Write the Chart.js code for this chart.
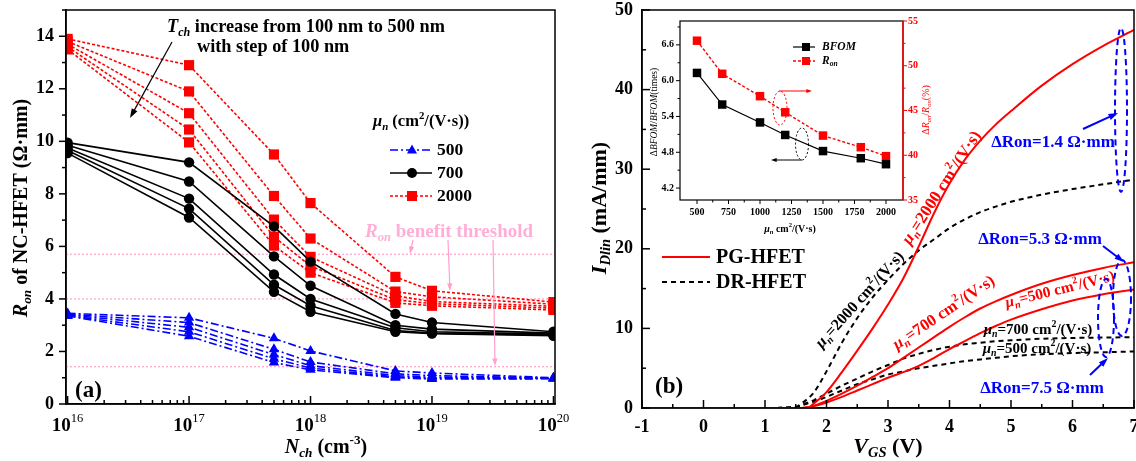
<!DOCTYPE html>
<html><head><meta charset="utf-8">
<script src="https://cdn.jsdelivr.net/npm/chart.js@4.4.0/dist/chart.umd.min.js"></script>
<style>
html,body{margin:0;padding:0;background:#fff;}
#wrap{position:relative;width:1136px;height:461px;overflow:hidden;background:#fff;}
canvas{position:absolute;}
</style></head>
<body><div id="wrap">
<canvas id="ca" width="575" height="461" style="left:0;top:0"></canvas>
<canvas id="cb" width="561" height="461" style="left:575px;top:0"></canvas>
<canvas id="ci" width="300" height="226" style="left:640px;top:14px"></canvas>
</div>
<script>
// ---------- DATA: panel (a) ----------
const nch = [1e16, 1e17, 5e17, 1e18, 5e18, 1e19, 1e20];
const tchLabels = ['100 nm', '200 nm', '300 nm', '400 nm', '500 nm'];
const ron500 = [
  [3.45, 3.28, 2.50, 2.02, 1.26, 1.18, 1.00],
  [3.42, 3.10, 2.08, 1.60, 1.15, 1.08, 0.99],
  [3.40, 2.92, 1.88, 1.46, 1.08, 1.02, 0.98],
  [3.37, 2.75, 1.72, 1.37, 1.03, 0.98, 0.97],
  [3.35, 2.58, 1.58, 1.30, 1.00, 0.95, 0.96]];
const ron700 = [
  [9.95, 9.20, 6.76, 5.42, 3.43, 3.10, 2.75],
  [9.85, 8.47, 5.62, 4.50, 3.00, 2.85, 2.70],
  [9.75, 7.82, 4.93, 4.00, 2.90, 2.75, 2.66],
  [9.65, 7.44, 4.54, 3.74, 2.80, 2.70, 2.63],
  [9.55, 7.10, 4.27, 3.51, 2.75, 2.68, 2.60]];
const ron2000 = [
  [13.9, 12.90, 9.50, 7.65, 4.84, 4.31, 3.88],
  [13.8, 11.90, 7.92, 6.30, 4.28, 4.08, 3.80],
  [13.7, 11.07, 7.02, 5.60, 4.12, 3.90, 3.72],
  [13.6, 10.45, 6.37, 5.25, 3.97, 3.82, 3.65],
  [13.5,  9.96, 6.03, 5.00, 3.85, 3.74, 3.58]];
const thresholds = [5.7, 4.0, 1.42];
const aYTicks = [0,1,2,3,4,5,6,7,8,9,10,11,12,13,14,15];
const aXDecades = [16, 17, 18, 19, 20];

// ---------- DATA: panel (b) ----------
const vgs    = [-1, 0, 1, 1.5, 1.6, 1.7, 1.8, 2.0, 2.25, 2.5, 2.75, 3.0, 3.25, 3.5, 3.75, 4.0, 4.25, 4.5, 4.75, 5.0, 5.5, 6.0, 6.5, 7.0];
const pg2000 = [0, 0, 0, 0, 0, 0.05, 0.6, 2.0, 4.5, 7.2, 10.0, 13.0, 16.3, 20.3, 24.5, 28.2, 31.2, 33.6, 35.6, 37.3, 40.5, 43.2, 45.5, 47.5];
const dr2000 = [0, 0, 0, 0.15, 0.6, 1.2, 2.0, 4.6, 8.2, 11.3, 13.9, 16.1, 18.1, 19.8, 21.2, 22.6, 23.7, 24.6, 25.3, 25.9, 26.8, 27.5, 28.1, 28.7];
const pg700  = [0, 0, 0, 0, 0, 0.1, 0.3, 0.9, 1.8, 2.8, 3.9, 5.0, 6.3, 7.6, 8.9, 10.2, 11.4, 12.5, 13.4, 14.2, 15.6, 16.7, 17.6, 18.3];
const pg500  = [0, 0, 0, 0, 0, 0.05, 0.25, 0.7, 1.4, 2.2, 3.0, 3.8, 4.5, 5.3, 6.3, 7.4, 8.4, 9.4, 10.3, 11.1, 12.4, 13.5, 14.3, 14.9];
const dr700  = [0, 0, 0, 0.1, 0.4, 0.7, 1.0, 1.8, 2.8, 3.7, 4.6, 5.4, 6.2, 6.8, 7.3, 7.7, 8.0, 8.2, 8.4, 8.5, 8.7, 8.8, 8.85, 8.9];
const dr500  = [0, 0, 0, 0.1, 0.3, 0.6, 0.8, 1.4, 2.2, 3.0, 3.6, 4.2, 4.6, 5.0, 5.3, 5.6, 5.9, 6.1, 6.3, 6.5, 6.75, 6.9, 7.0, 7.1];
const bXTicks = [-1,-0.5,0,0.5,1,1.5,2,2.5,3,3.5,4,4.5,5,5.5,6,6.5,7];
const bYTicks = [0,5,10,15,20,25,30,35,40,45,50];

// ---------- DATA: inset ----------
const muN   = [500, 700, 1000, 1200, 1500, 1800, 2000];
const bfom  = [6.13, 5.60, 5.30, 5.09, 4.82, 4.70, 4.60];
const ronPct = [52.8, 49.1, 46.6, 44.8, 42.2, 40.9, 39.9];
const iXTicks = [500,625,750,875,1000,1125,1250,1375,1500,1625,1750,1875,2000];
const iYTicks = [4.2,4.5,4.8,5.1,5.4,5.7,6.0,6.3,6.6,6.9];
const iY1Ticks = [35,37.5,40,42.5,45,47.5,50,52.5,55];

// ---------- helpers ----------
const F = '"Liberation Serif", "Times New Roman", serif';
const RED = 'rgb(255,0,0)', BLUE = 'rgb(0,0,255)', PINK = 'rgb(255,160,205)', PINKT = 'rgb(255,175,215)';

function rich(ctx, x, y, segs, o = {}) {
  const size = o.size || 16, bold = o.bold !== false;
  const parts = segs.map(s => typeof s === 'string' ? {t: s} : s).map(s => {
    const sz = (s.sub || s.sup) ? size * 0.66 : size;
    const font = `${s.i ? 'italic ' : ''}${(s.n || !bold) ? '' : 'bold '}${sz}px ${F}`;
    ctx.font = font;
    return {t: s.t, font, w: ctx.measureText(s.t).width, dy: s.sub ? size * 0.3 : s.sup ? -size * 0.36 : 0};
  });
  const total = parts.reduce((a, p) => a + p.w, 0);
  ctx.save(); ctx.translate(x, y); if (o.rot) ctx.rotate(o.rot * Math.PI / 180);
  let cx = o.align === 'left' ? 0 : o.align === 'right' ? -total : -total / 2;
  ctx.fillStyle = o.color || '#000'; ctx.textBaseline = 'middle'; ctx.textAlign = 'left';
  for (const p of parts) { ctx.font = p.font; ctx.fillText(p.t, cx, p.dy); cx += p.w; }
  ctx.restore();
}
function arrow(ctx, x1, y1, x2, y2, color, lw = 1.3, head = 9) {
  ctx.save(); ctx.strokeStyle = color; ctx.fillStyle = color; ctx.lineWidth = lw; ctx.setLineDash([]);
  const a = Math.atan2(y2 - y1, x2 - x1);
  ctx.beginPath(); ctx.moveTo(x1, y1); ctx.lineTo(x2 - head * 0.7 * Math.cos(a), y2 - head * 0.7 * Math.sin(a)); ctx.stroke();
  ctx.beginPath(); ctx.moveTo(x2, y2);
  ctx.lineTo(x2 - head * Math.cos(a - 0.33), y2 - head * Math.sin(a - 0.33));
  ctx.lineTo(x2 - head * Math.cos(a + 0.33), y2 - head * Math.sin(a + 0.33));
  ctx.closePath(); ctx.fill(); ctx.restore();
}
function ellipse(ctx, cx, cy, rx, ry, color, lw, dash) {
  ctx.save(); ctx.strokeStyle = color; ctx.lineWidth = lw; ctx.setLineDash(dash);
  ctx.beginPath(); ctx.ellipse(cx, cy, rx, ry, 0, 0, Math.PI * 2); ctx.stroke(); ctx.restore();
}
function drawTicks(ctx, scale, o) {
  const ca = scale.chart.chartArea;
  ctx.save(); ctx.strokeStyle = o.color || '#000'; ctx.lineWidth = o.lw || 1.5; ctx.setLineDash([]);
  for (const t of scale.ticks) {
    const p = scale.getPixelForValue(t.value);
    const L = o.maj(t.value) ? o.lm : o.ln;
    ctx.beginPath();
    if (o.side === 'bottom') { ctx.moveTo(p, ca.bottom); ctx.lineTo(p, ca.bottom + o.dir * L); }
    else if (o.side === 'left') { ctx.moveTo(ca.left, p); ctx.lineTo(ca.left - o.dir * L, p); }
    else { ctx.moveTo(ca.right, p); ctx.lineTo(ca.right + o.dir * L, p); }
    ctx.stroke();
  }
  ctx.restore();
}
function setTicks(arr) { return s => { s.ticks = arr.map(v => ({value: v})); }; }
function fix(dim, val) {
  return s => { s[dim] = val; s.paddingTop = 0; s.paddingBottom = 0; s.paddingLeft = 0; s.paddingRight = 0; };
}
function marker(ctx, type, x, y, color, r) {
  ctx.save(); ctx.fillStyle = color; ctx.setLineDash([]); ctx.beginPath();
  if (type === 'circle') ctx.arc(x, y, r, 0, Math.PI * 2);
  else if (type === 'rect') ctx.rect(x - r, y - r, 2 * r, 2 * r);
  else { ctx.moveTo(x, y - r * 1.1); ctx.lineTo(x + r, y + r * 0.7); ctx.lineTo(x - r, y + r * 0.7); ctx.closePath(); }
  ctx.fill(); ctx.restore();
}

Chart.defaults.animation = false;
Chart.defaults.font.family = F;
Chart.defaults.color = '#000';

// ---------- panel (a) ----------
const dsA = [];
ron700.forEach((s, k) => dsA.push({label: '700 ' + tchLabels[k], data: nch.map((x, i) => ({x, y: s[i]})),
  showLine: true, borderColor: '#000', backgroundColor: '#000', borderWidth: 1.6, pointStyle: 'circle', pointRadius: 5.2, pointBorderWidth: 0}));
ron2000.forEach((s, k) => dsA.push({label: '2000 ' + tchLabels[k], data: nch.map((x, i) => ({x, y: s[i]})),
  showLine: true, borderColor: RED, backgroundColor: RED, borderWidth: 1.6, borderDash: [3, 2], pointStyle: 'rect', pointRadius: 7.2, pointBorderWidth: 0}));
ron500.forEach((s, k) => dsA.push({label: '500 ' + tchLabels[k], data: nch.map((x, i) => ({x, y: s[i]})),
  showLine: true, borderColor: BLUE, backgroundColor: BLUE, borderWidth: 1.6, borderDash: [8, 3, 2, 3], pointStyle: 'triangle', pointRadius: 6, pointBorderWidth: 0}));

const annA = {
  id: 'annA',
  beforeDatasetsDraw(chart) {
    const ctx = chart.ctx, ca = chart.chartArea, y = chart.scales.y;
    ctx.save(); ctx.strokeStyle = PINK; ctx.lineWidth = 1.2; ctx.setLineDash([2, 2]);
    thresholds.forEach(v => { const p = y.getPixelForValue(v); ctx.beginPath(); ctx.moveTo(ca.left, p); ctx.lineTo(ca.right, p); ctx.stroke(); });
    ctx.restore();
  },
  afterDraw(chart) {
    const ctx = chart.ctx, ca = chart.chartArea, xs = chart.scales.x, ys = chart.scales.y;
    ctx.save(); ctx.strokeStyle = '#000'; ctx.lineWidth = 1.5; ctx.setLineDash([]);
    ctx.strokeRect(ca.left, ca.top, ca.right - ca.left, ca.bottom - ca.top); ctx.restore();
    drawTicks(ctx, xs, {side: 'bottom', dir: -1, lm: 8, ln: 4, maj: v => Math.abs(Math.log10(v) - Math.round(Math.log10(v))) < 1e-9});
    drawTicks(ctx, ys, {side: 'left', dir: 1, lm: 7, ln: 4, maj: v => v % 2 === 0});
    aXDecades.forEach(d => rich(ctx, xs.getPixelForValue(Math.pow(10, d)), 426, ['10', {t: String(d), sup: 1, n: 1}], {size: 19}));
    // axis titles
    rich(ctx, 22, 208, [{t: 'R', i: 1}, {t: 'on', i: 1, sub: 1}, ' of NC-HFET (Ω·mm)'], {size: 20, rot: -90});
    rich(ctx, 326, 448, [{t: 'N', i: 1}, {t: 'ch', i: 1, sub: 1}, ' (cm', {t: '-3', sup: 1}, ')'], {size: 20});
    // annotation
    rich(ctx, 167, 27, [{t: 'T', i: 1}, {t: 'ch', i: 1, sub: 1}, ' increase from 100 nm to 500 nm'], {size: 18.3, align: 'left'});
    rich(ctx, 197, 47, ['with step of 100 nm'], {size: 18.3, align: 'left'});
    arrow(ctx, 172, 42, 130, 118, '#000', 1.2, 10);
    // legend
    rich(ctx, 373, 122, [{t: 'μ', i: 1}, {t: 'n', i: 1, sub: 1}, ' (cm', {t: '2', sup: 1}, '/(V·s))'], {size: 16.5, align: 'left'});
    const leg = [['500', BLUE, [8, 3, 2, 3], 'tri', 150], ['700', '#000', [], 'circle', 173], ['2000', RED, [3, 2], 'rect', 196]];
    leg.forEach(([t, c, d, m, yy]) => {
      ctx.save(); ctx.strokeStyle = c; ctx.lineWidth = 1.4; ctx.setLineDash(d);
      ctx.beginPath(); ctx.moveTo(390, yy); ctx.lineTo(432, yy); ctx.stroke(); ctx.restore();
      marker(ctx, m, 412, yy, c, 5);
      rich(ctx, 437, yy, [t], {size: 17.5, align: 'left'});
    });
    // threshold text + arrows
    rich(ctx, 365, 232, [{t: 'R', i: 1}, {t: 'on', i: 1, sub: 1}, ' benefit threshold'], {size: 19, align: 'left', color: PINKT});
    arrow(ctx, 413, 240, 410, 254, PINK, 1.2, 8);
    arrow(ctx, 448, 240, 450, 291, PINK, 1.2, 8);
    arrow(ctx, 493, 240, 495, 366, PINK, 1.2, 8);
    rich(ctx, 75, 391, ['(a)'], {size: 23, align: 'left'});
  }
};

new Chart(document.getElementById('ca'), {
  type: 'scatter',
  data: {datasets: dsA},
  options: {
    responsive: false, devicePixelRatio: 1,
    layout: {padding: {left: 0, top: 10, right: 20, bottom: 0}},
    plugins: {legend: {display: false}, tooltip: {enabled: false}},
    scales: {
      x: {type: 'logarithmic', min: 0.97e16, max: 1.03e20,
        afterBuildTicks: s => { const t = []; for (let d = 16; d < 20; d++) for (let k = 1; k <= 9; k++) t.push({value: k * Math.pow(10, d)}); t.push({value: 1e20}); s.ticks = t; },
        afterFit: fix('height', 57),
        grid: {display: false, drawTicks: false}, border: {display: true, color: '#000', width: 1.5},
        ticks: {display: false}},
      y: {min: 0, max: 15, afterBuildTicks: setTicks(aYTicks), afterFit: fix('width', 66),
        grid: {display: false, drawTicks: false}, border: {display: true, color: '#000', width: 1.5},
        ticks: {autoSkip: false, padding: 12, font: {size: 18, weight: 'bold'}, callback: v => (v % 2 === 0 && v <= 14) ? v : ''}}
    }
  },
  plugins: [annA]
});

// ---------- panel (b) ----------
const mk = (arr, color, dash) => ({data: vgs.map((x, i) => ({x, y: arr[i]})), showLine: true, borderColor: color, backgroundColor: color,
  borderWidth: 2, borderDash: dash, pointRadius: 0, cubicInterpolationMode: 'monotone'});
const dsB = [
  Object.assign(mk(pg2000, RED, []), {label: 'PG-HFET 2000'}),
  Object.assign(mk(pg700, RED, []), {label: 'PG-HFET 700'}),
  Object.assign(mk(pg500, RED, []), {label: 'PG-HFET 500'}),
  Object.assign(mk(dr2000, '#000', [5, 4]), {label: 'DR-HFET 2000'}),
  Object.assign(mk(dr700, '#000', [5, 4]), {label: 'DR-HFET 700'}),
  Object.assign(mk(dr500, '#000', [5, 4]), {label: 'DR-HFET 500'})
];
const muLab = (v) => [{t: 'μ', i: 1}, {t: 'n', i: 1, sub: 1}, '=' + v + ' cm', {t: '2', sup: 1}, '/(V·s)'];
const annB = {
  id: 'annB',
  afterDraw(chart) {
    const ctx = chart.ctx, ca = chart.chartArea;
    ctx.save(); ctx.strokeStyle = '#000'; ctx.lineWidth = 1.5; ctx.setLineDash([]);
    ctx.strokeRect(ca.left, ca.top, ca.right - ca.left, ca.bottom - ca.top); ctx.restore();
    drawTicks(ctx, chart.scales.x, {side: 'bottom', dir: -1, lm: 8, ln: 4, maj: v => Number.isInteger(v)});
    drawTicks(ctx, chart.scales.y, {side: 'left', dir: -1, lm: 8, ln: 4, maj: v => v % 10 === 0});
    ctx.save(); ctx.translate(-575, 0);
    rich(ctx, 600, 208, [{t: 'I', i: 1}, {t: 'Dlin', i: 1, sub: 1}, ' (mA/mm)'], {size: 22, rot: -90});
    rich(ctx, 888, 447, [{t: 'V', i: 1}, {t: 'GS', i: 1, sub: 1}, ' (V)'], {size: 22});
    // legend
    ctx.save(); ctx.lineWidth = 2; ctx.strokeStyle = RED; ctx.beginPath(); ctx.moveTo(662, 257); ctx.lineTo(710, 257); ctx.stroke();
    ctx.strokeStyle = '#000'; ctx.setLineDash([5, 4]); ctx.beginPath(); ctx.moveTo(662, 282); ctx.lineTo(710, 282); ctx.stroke(); ctx.restore();
    rich(ctx, 716, 258, ['PG-HFET'], {size: 20, align: 'left'});
    rich(ctx, 716, 283, ['DR-HFET'], {size: 20, align: 'left'});
    rich(ctx, 655, 387, ['(b)'], {size: 23, align: 'left'});
    // curve labels
    rich(ctx, 942, 188, muLab(2000), {size: 17, rot: -57, color: RED});
    rich(ctx, 860, 300, muLab(2000), {size: 16, rot: -48});
    rich(ctx, 944, 313, muLab(700), {size: 16.5, rot: -34, color: RED});
    rich(ctx, 1060, 290, muLab(500), {size: 15.5, rot: -14, color: RED});
    rich(ctx, 1038, 330, muLab(700), {size: 15});
    rich(ctx, 1037, 349, muLab(500), {size: 15});
    // blue annotations
    rich(ctx, 1053, 143, ['ΔRon=1.4 Ω·mm'], {size: 17, color: BLUE});
    arrow(ctx, 1083, 129, 1118, 113, BLUE, 2, 10);
    ellipse(ctx, 1121, 110, 6, 82, BLUE, 2, [6, 4]);
    rich(ctx, 1040, 240, ['ΔRon=5.3 Ω·mm'], {size: 17, color: BLUE});
    arrow(ctx, 1103, 246, 1124, 262, BLUE, 2, 10);
    ellipse(ctx, 1122, 298, 9, 38, BLUE, 2, [6, 4]);
    ellipse(ctx, 1106, 318, 8, 39, BLUE, 2, [6, 4]);
    rich(ctx, 1042, 389, ['ΔRon=7.5 Ω·mm'], {size: 17, color: BLUE});
    arrow(ctx, 1090, 375, 1108, 358, BLUE, 2, 10);
    ctx.restore();
  }
};
new Chart(document.getElementById('cb'), {
  type: 'scatter',
  data: {datasets: dsB},
  options: {
    responsive: false, devicePixelRatio: 1,
    layout: {padding: {left: 0, top: 10, right: 2, bottom: 0}},
    plugins: {legend: {display: false}, tooltip: {enabled: false}},
    scales: {
      x: {min: -1, max: 7, afterBuildTicks: setTicks(bXTicks), afterFit: fix('height', 53),
        grid: {display: false, drawTicks: false}, border: {display: true, color: '#000', width: 1.5},
        ticks: {autoSkip: false, maxRotation: 0, padding: 9, font: {size: 18, weight: 'bold'}, callback: v => Number.isInteger(v) ? v : ''}},
      y: {min: 0, max: 50, afterBuildTicks: setTicks(bYTicks), afterFit: fix('width', 67),
        grid: {display: false, drawTicks: false}, border: {display: true, color: '#000', width: 1.5},
        ticks: {autoSkip: false, padding: 9, font: {size: 18, weight: 'bold'}, callback: v => v % 10 === 0 ? v : ''}}
    }
  },
  plugins: [annB]
});

// ---------- inset ----------
const annI = {
  id: 'annI',
  afterDraw(chart) {
    const ctx = chart.ctx, ca = chart.chartArea;
    ctx.save(); ctx.strokeStyle = '#000'; ctx.lineWidth = 1.2; ctx.setLineDash([]);
    ctx.strokeRect(ca.left, ca.top, ca.right - ca.left, ca.bottom - ca.top);
    ctx.strokeStyle = RED; ctx.lineWidth = 1.5; ctx.beginPath(); ctx.moveTo(ca.right, ca.top); ctx.lineTo(ca.right, ca.bottom); ctx.stroke();
    ctx.restore();
    drawTicks(ctx, chart.scales.x, {side: 'bottom', dir: 1, lm: 4, ln: 2.5, lw: 1, maj: v => v % 250 === 0});
    drawTicks(ctx, chart.scales.y, {side: 'left', dir: 1, lm: 4, ln: 2.5, lw: 1, maj: v => Math.abs((v - 4.2) / 0.6 - Math.round((v - 4.2) / 0.6)) < 1e-6});
    drawTicks(ctx, chart.scales.y1, {side: 'right', dir: 1, lm: 4, ln: 2.5, lw: 1, color: RED, maj: v => v % 5 === 0});
    ctx.save(); ctx.translate(-640, -14);
    // legend
    ctx.save(); ctx.lineWidth = 1.2; ctx.strokeStyle = '#000'; ctx.beginPath(); ctx.moveTo(793, 47); ctx.lineTo(815, 47); ctx.stroke();
    ctx.strokeStyle = RED; ctx.setLineDash([3, 2]); ctx.lineWidth = 1.4; ctx.beginPath(); ctx.moveTo(793, 61); ctx.lineTo(815, 61); ctx.stroke(); ctx.restore();
    marker(ctx, 'rect', 806, 47, '#000', 4);
    marker(ctx, 'rect', 806, 61, RED, 4);
    rich(ctx, 822, 47, [{t: 'BFOM', i: 1}], {size: 11.5, align: 'left'});
    rich(ctx, 822, 61, [{t: 'R', i: 1}, {t: 'on', i: 1, sub: 1}], {size: 11.5, align: 'left'});
    // ellipses + arrows
    ellipse(ctx, 780, 108, 7, 17, RED, 1, [2, 2]);
    arrow(ctx, 779, 91, 812, 91, RED, 1, 6);
    ellipse(ctx, 802, 144, 6.5, 16, '#000', 1, [2, 2]);
    arrow(ctx, 802, 160, 771, 160, '#000', 1, 6);
    // axis titles
    rich(ctx, 654, 112, ['Δ', {t: 'BFOM', i: 1}, '/', {t: 'BFOM', i: 1}, '(times)'], {size: 9.5, rot: -90, bold: false});
    rich(ctx, 926, 110, ['Δ', {t: 'R', i: 1}, {t: 'on', i: 1, sub: 1}, '/', {t: 'R', i: 1}, {t: 'on', i: 1, sub: 1}, '(%)'], {size: 10, rot: -90, bold: false, color: RED});
    rich(ctx, 790, 229, [{t: 'μ', i: 1}, {t: 'n', i: 1, sub: 1}, ' cm', {t: '2', sup: 1}, '/(V·s)'], {size: 10});
    ctx.restore();
  }
};
new Chart(document.getElementById('ci'), {
  type: 'scatter',
  data: {datasets: [
    {label: 'BFOM', yAxisID: 'y', data: muN.map((x, i) => ({x, y: bfom[i]})), showLine: true, borderColor: '#000', backgroundColor: '#000',
      borderWidth: 1.2, pointStyle: 'rect', pointRadius: 6, pointBorderWidth: 0},
    {label: 'Ron', yAxisID: 'y1', data: muN.map((x, i) => ({x, y: ronPct[i]})), showLine: true, borderColor: RED, backgroundColor: RED,
      borderWidth: 1.4, borderDash: [3, 2], pointStyle: 'rect', pointRadius: 6, pointBorderWidth: 0}
  ]},
  options: {
    responsive: false, devicePixelRatio: 1,
    layout: {padding: {left: 0, top: 7, right: 0, bottom: 0}},
    plugins: {legend: {display: false}, tooltip: {enabled: false}},
    scales: {
      x: {min: 365, max: 2135, afterBuildTicks: setTicks(iXTicks), afterFit: fix('height', 40),
        grid: {display: false, drawTicks: false}, border: {display: false},
        ticks: {autoSkip: false, maxRotation: 0, padding: 6, font: {size: 10, weight: 'bold'}, callback: v => v % 250 === 0 ? v : ''}},
      y: {position: 'left', min: 4.0, max: 7.0, afterBuildTicks: setTicks(iYTicks), afterFit: fix('width', 40),
        grid: {display: false, drawTicks: false}, border: {display: false},
        ticks: {autoSkip: false, padding: 6, font: {size: 10, weight: 'bold'},
          callback: v => Math.abs((v - 4.2) / 0.6 - Math.round((v - 4.2) / 0.6)) < 1e-6 ? v.toFixed(1) : ''}},
      y1: {position: 'right', min: 35, max: 55, afterBuildTicks: setTicks(iY1Ticks), afterFit: fix('width', 37),
        grid: {display: false, drawTicks: false}, border: {display: false},
        ticks: {autoSkip: false, padding: 5, color: RED, font: {size: 10, weight: 'bold'}, callback: v => v % 5 === 0 ? v : ''}}
    }
  },
  plugins: [annI]
});
</script>
</body></html>
